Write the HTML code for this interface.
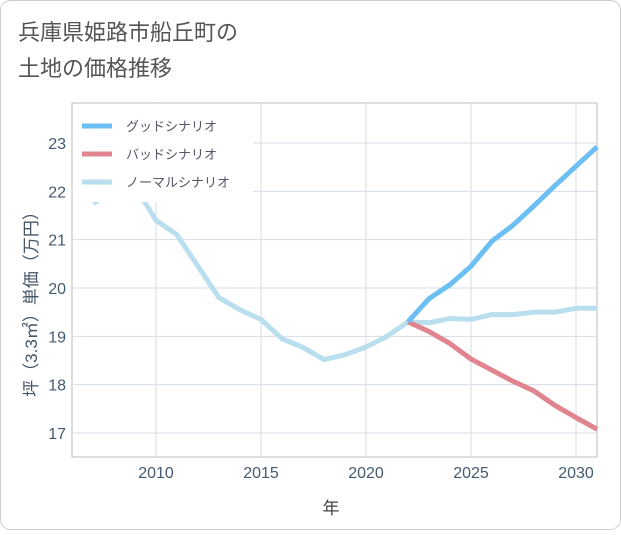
<!DOCTYPE html>
<html><head><meta charset="utf-8"><style>
body{margin:0;background:#fff;font-family:"Liberation Sans","Noto Sans CJK JP",sans-serif}
#wrap{position:relative;width:621px;height:530px}
</style></head><body>
<div id="wrap">
<svg id="chart" width="621" height="530" xmlns="http://www.w3.org/2000/svg">
<rect x="0.5" y="0.5" width="620" height="529" rx="10" fill="#fff" stroke="#ccc"/>
<text x="18" y="40" font-size="22" fill="#555">兵庫県姫路市船丘町の</text>
<text x="18" y="76" font-size="22" fill="#555">土地の価格推移</text>
<g id="grid"></g>
<g id="series"></g>
<g id="legend"></g>
<text x="331" y="514" font-size="17" fill="#444" text-anchor="middle">年</text>
<text transform="translate(37,300) rotate(-90)" font-size="17" fill="#445566" text-anchor="middle">坪（3.3㎡）単価（万円）</text>
</svg>
</div>
<script>
const years=[2007,2008,2009,2010,2011,2012,2013,2014,2015,2016,2017,2018,2019,2020,2021,2022,2023,2024,2025,2026,2027,2028,2029,2030,2031];
const normal=[21.75,22.0,22.1,21.4,21.1,20.45,19.8,19.55,19.35,18.95,18.77,18.52,18.62,18.78,19.0,19.3,19.28,19.37,19.35,19.45,19.45,19.5,19.5,19.58,19.58];
const fYears=[2022,2023,2024,2025,2026,2027,2028,2029,2030,2031];
const good=[19.3,19.78,20.07,20.45,20.97,21.3,21.7,22.12,22.52,22.92];
const bad=[19.3,19.1,18.85,18.53,18.3,18.07,17.87,17.57,17.32,17.08];
const xTicks=[2010,2015,2020,2025,2030];
const yTicks=[17,18,19,20,21,22,23];
const X0=72,X1=597,Y0=103,Y1=457;
const xs=v=>X0+(v-2006)/(2031-2006)*(X1-X0);
const ys=v=>433-(v-17)*48.33;
const NS='http://www.w3.org/2000/svg';
function mk(t,a,p){const e=document.createElementNS(NS,t);for(const k in a)e.setAttribute(k,a[k]);p.appendChild(e);return e;}
const grid=document.getElementById('grid');
const f=mk('rect',{x:X0,y:Y0,width:X1-X0,height:Y1-Y0,fill:'none',stroke:'#bbb'},grid);


xTicks.forEach(t=>{const x=xs(t);
const l=mk('line',{x1:x,x2:x,y1:Y0,y2:Y1,stroke:'#d5dde6'},grid);


const tx=mk('text',{x:x,y:478,'font-size':16,fill:'#445a70','text-anchor':'middle'},grid);tx.textContent=t;

});
yTicks.forEach(t=>{const y=ys(t);
const l=mk('line',{x1:X0,x2:X1,y1:y,y2:y,stroke:'#d5dde6'},grid);


const tx=mk('text',{x:66,y:y+6,'font-size':16,fill:'#445a70','text-anchor':'end'},grid);tx.textContent=t;

});
const ser=document.getElementById('series');
function line(xv,yv,c,n){const p=mk('polyline',{points:xv.map((x,i)=>xs(x)+','+ys(yv[i])).join(' '),fill:'none',stroke:c,'stroke-width':5,'stroke-linejoin':'round'},ser);

}
line(years,normal,'#b9dfee','normal-scenario-line');
line(fYears,bad,'#e0858f','bad-scenario-line');
line(fYears,good,'#6cbff2','good-scenario-line');
const lg=document.getElementById('legend');
const bg=mk('rect',{x:73,y:104,width:180,height:98,fill:'#fff'},lg);


[['グッドシナリオ','#6cbff2'],['バッドシナリオ','#e0858f'],['ノーマルシナリオ','#b9dfee']].forEach((d,i)=>{const y=126+i*28;
const g=mk('g',{},lg);


mk('line',{x1:82,x2:112,y1:y,y2:y,stroke:d[1],'stroke-width':5},g);
const t=mk('text',{x:126,y:y+5,'font-size':13,fill:'#556'},g);t.textContent=d[0];});
</script>
</body></html>
